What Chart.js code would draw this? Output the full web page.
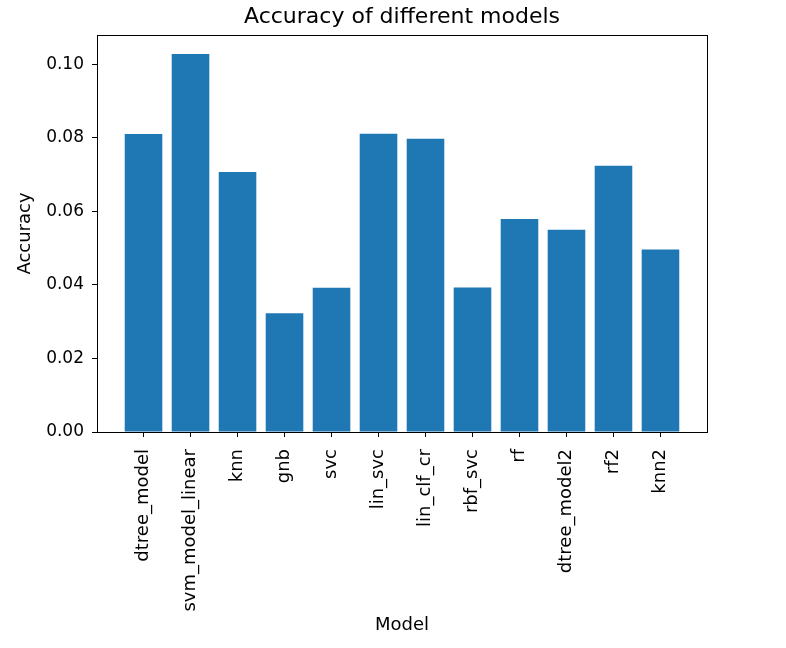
<!DOCTYPE html>
<html>
<head>
<meta charset="utf-8">
<script src="https://cdn.jsdelivr.net/npm/chart.js@4/dist/chart.umd.min.js"></script>
<style>
	html, body { margin: 0; padding: 0; background: #fff; }
	#wrap { width: 786px; height: 648px; }
</style>
</head>
<body>
<div id="wrap"><canvas id="acc-chart" width="786" height="648"></canvas></div>
<script>
// model names along the x axis
const models = ['dtree_model', 'svm_model_linear', 'knn', 'gnb', 'svc', 'lin_svc',
	'lin_clf_cr', 'rbf_svc', 'rf', 'dtree_model2', 'rf2', 'knn2'];
// accuracy per model
const accuracy = [0.0810, 0.1028, 0.0707, 0.0323, 0.0392, 0.0811,
	0.0797, 0.0393, 0.0579, 0.0550, 0.0724, 0.0496];
const yTicks = [0.00, 0.02, 0.04, 0.06, 0.08, 0.10];

const FONT = 'DejaVu Sans';

// box round the plot like matplotlib's spines
const frame = {
	id: 'frame',
	afterDraw(chart) {
		const a = chart.chartArea;
		const ctx = chart.ctx;
		ctx.save();
		ctx.strokeStyle = '#000';
		ctx.lineWidth = 1;
		ctx.strokeRect(Math.round(a.left) + 0.5, Math.round(a.top) + 0.5,
			Math.round(a.right - a.left), Math.round(a.bottom - a.top));
		ctx.restore();
	}
};

window.onload = () => {
	const ctx = document.getElementById('acc-chart').getContext('2d');
	const n = models.length;
	const pad = 0.05 * (n - 1 + 0.8);
	new Chart(ctx, {
		type: 'bar',
		data: {
			datasets: [{
				data: accuracy.map((v, i) => ({ x: i, y: v })),
				backgroundColor: '#1f77b4',
				borderWidth: 0,
				barPercentage: 0.8,
				categoryPercentage: 1.0
			}]
		},
		options: {
			responsive: false,
			animation: false,
			layout: { padding: { left: 10, right: 79, top: 0, bottom: 9 } },
			plugins: {
				legend: { display: false },
				tooltip: { enabled: false },
				title: {
					display: true,
					fullSize: false,
					text: 'Accuracy of different models',
					color: '#000',
					font: { family: FONT, size: 22, weight: 'normal' },
					padding: { top: 4, bottom: 4.6 }
				}
			},
			scales: {
				x: {
					type: 'linear',
					offset: false,
					min: -0.4 - pad,
					max: n - 1 + 0.4 + pad,
					afterBuildTicks: s => { s.ticks = models.map((m, i) => ({ value: i })); },
					afterFit: s => { s.height = 648 - 9 - 432; },
					ticks: {
						color: '#000',
						font: { family: FONT, size: 18 },
						minRotation: 90,
						maxRotation: 90,
						padding: 12,
						autoSkip: false,
						callback: v => models[v]
					},
					grid: { offset: false, drawOnChartArea: false, drawTicks: true, tickLength: 5, color: '#000' },
					border: { color: '#000' },
					title: {
						display: true,
						text: 'Model',
						color: '#000',
						font: { family: FONT, size: 18 },
						padding: { top: 4, bottom: 3 }
					}
				},
				y: {
					min: 0,
					max: Math.max(...accuracy) * 1.05,
					afterBuildTicks: s => { s.ticks = yTicks.map(v => ({ value: v })); },
					afterFit: s => { s.width = 87; },
					ticks: {
						color: '#000',
						font: { family: FONT, size: 17 },
						padding: 8,
						callback: v => v.toFixed(2)
					},
					grid: { drawOnChartArea: false, drawTicks: true, tickLength: 5, color: '#000' },
					border: { color: '#000' },
					title: {
						display: true,
						text: 'Accuracy',
						color: '#000',
						font: { family: FONT, size: 18 },
						padding: { top: 5, bottom: 4 }
					}
				}
			}
		},
		plugins: [frame]
	});
};
</script>
</body>
</html>
